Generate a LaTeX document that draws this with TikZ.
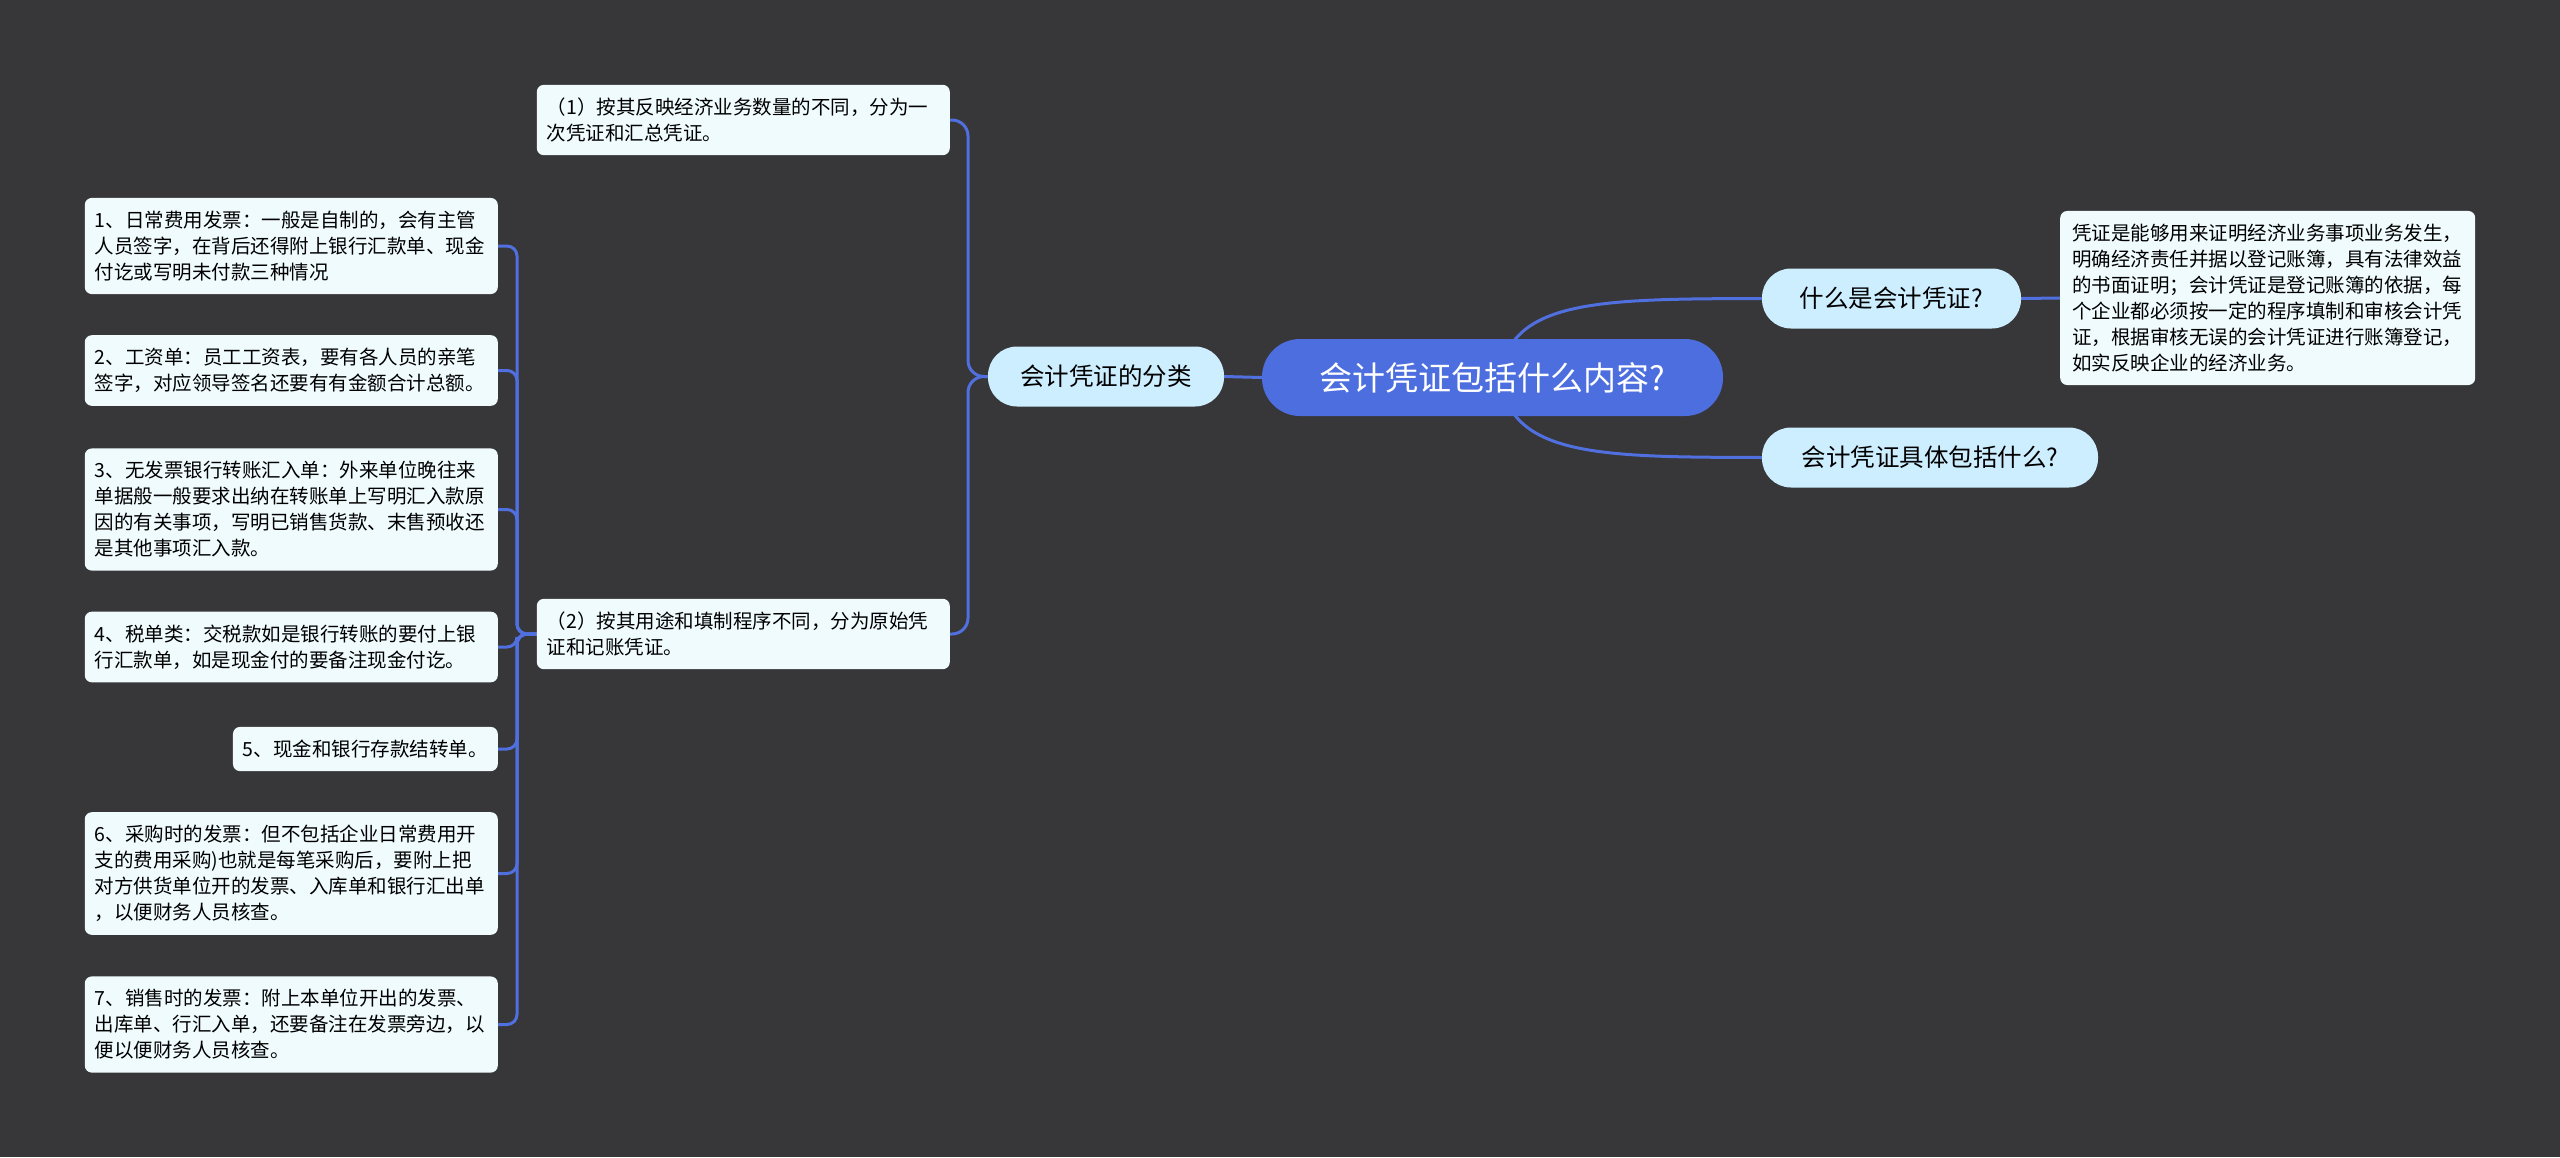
\documentclass[tikz,border=0pt]{standalone}
\usepackage{fontspec}
\setmainfont{Noto Sans CJK SC}
\pgfdeclarelayer{back}
\pgfdeclarelayer{bg}
\pgfsetlayers{back,bg,main}
\definecolor{bgc}{RGB}{55,54,56}
\definecolor{rootc}{RGB}{76,110,222}
\definecolor{linec}{RGB}{80,112,224}
\definecolor{topc}{RGB}{204,238,255}
\definecolor{boxc}{RGB}{240,251,254}
\begin{document}
\begin{tikzpicture}[x=1pt,y=-1pt,
  leaf/.style={fill=boxc, rounded corners=7pt, inner xsep=10pt, inner ysep=13pt, align=left, text=black, font=\fontsize{19.5}{26}\selectfont},
  leafw/.style={leaf, text width=393pt},
  topic/.style={fill=topc, rounded corners=29pt, minimum height=60pt, inner xsep=0pt, text=black, font=\fontsize{24.5}{30}\selectfont},
  rootn/.style={fill=rootc, rounded corners=38pt, minimum height=77pt, minimum width=461pt, inner xsep=0pt, text=white, font=\fontsize{33}{40}\selectfont},
  conn/.style={draw=linec, line width=3pt}]
\begin{pgfonlayer}{back}
\fill[bgc] (0,0) rectangle (2560,1157);
\end{pgfonlayer}
\useasboundingbox (0,0) rectangle (2560,1157);

\node[rootn] (root) at (1492.5,377.5) {会计凭证包括什么内容?};
\node[topic, minimum width=236pt] (cls) at (1106,376.5) {会计凭证的分类};
\node[topic, minimum width=259pt] (tw) at (1891.5,298.5) {什么是会计凭证?};
\node[topic, minimum width=336pt] (tj) at (1930,457.5) {会计凭证具体包括什么?};

\node[leaf, text width=391pt, inner xsep=12pt, anchor=west] (def) at (2060,298) {凭证是能够用来证明经济业务事项业务发生，\\明确经济责任并据以登记账簿，具有法律效益\\的书面证明；会计凭证是登记账簿的依据，每\\个企业都必须按一定的程序填制和审核会计凭\\证，根据审核无误的会计凭证进行账簿登记，\\如实反映企业的经济业务。};

\node[leafw, anchor=east] (b1) at (950,120) {（1）按其反映经济业务数量的不同，分为一\\次凭证和汇总凭证。};
\node[leafw, anchor=east] (b2) at (950,634) {（2）按其用途和填制程序不同，分为原始凭\\证和记账凭证。};

\node[leafw, anchor=east] (i1) at (498,246) {1、日常费用发票：一般是自制的，会有主管\\人员签字，在背后还得附上银行汇款单、现金\\付讫或写明未付款三种情况};
\node[leafw, anchor=east] (i2) at (498,370.5) {2、工资单：员工工资表，要有各人员的亲笔\\签字，对应领导签名还要有有金额合计总额。};
\node[leafw, anchor=east] (i3) at (498,509.5) {3、无发票银行转账汇入单：外来单位晚往来\\单据般一般要求出纳在转账单上写明汇入款原\\因的有关事项，写明已销售货款、末售预收还\\是其他事项汇入款。};
\node[leafw, anchor=east] (i4) at (498,647) {4、税单类：交税款如是银行转账的要付上银\\行汇款单，如是现金付的要备注现金付讫。};
\node[leaf, anchor=east] (i5) at (498,749) {5、现金和银行存款结转单。};
\node[leafw, anchor=east] (i6) at (498,873.5) {6、采购时的发票：但不包括企业日常费用开\\支的费用采购)也就是每笔采购后，要附上把\\对方供货单位开的发票、入库单和银行汇出单\\，以便财务人员核查。};
\node[leafw, anchor=east] (i7) at (498,1024.5) {7、销售时的发票：附上本单位开出的发票、\\出库单、行汇入单，还要备注在发票旁边，以\\便以便财务人员核查。};

\begin{pgfonlayer}{bg}
\draw[conn] (cls.east) -- (root.west);
\draw[conn] (1500,377) .. controls (1510,299) and (1600,299) .. (tw.west);
\draw[conn] (1500,377) .. controls (1510,457) and (1600,457) .. (tj.west);
\draw[conn] (tw.east) -- (def.west);
\draw[conn, rounded corners=16pt] (cls.west) -- (968,376.5) -- (968,120) -- (b1.east);
\draw[conn, rounded corners=16pt] (cls.west) -- (968,376.5) -- (968,634) -- (b2.east);
\foreach \i in {i1,i2,i3,i4,i5,i6,i7}{
  \draw[conn, rounded corners=10pt] (b2.west) -- (517,634) |- (\i.east);
}
\end{pgfonlayer}
\end{tikzpicture}
\end{document}
